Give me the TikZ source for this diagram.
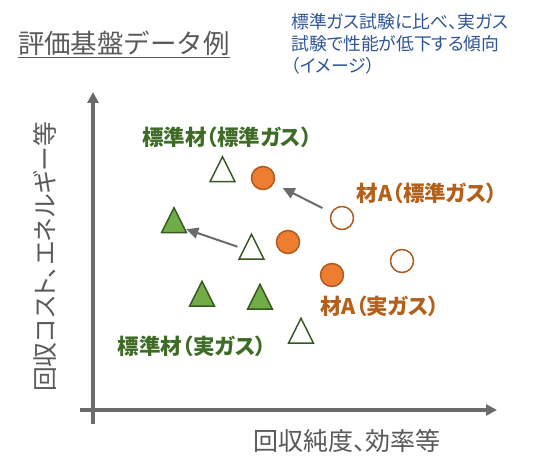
\documentclass[tikz,border=0pt]{standalone}
\usepackage{fontspec}
\newfontfamily\jp{Noto Sans CJK JP}
\newfontfamily\jpp[RawFeature=+palt]{Noto Sans CJK JP}
\usetikzlibrary{arrows.meta,shapes.geometric}
\definecolor{axgray}{HTML}{6B6B6B}
\definecolor{txtgray}{HTML}{595959}
\definecolor{blueT}{HTML}{2F5597}
\definecolor{grnfill}{HTML}{70AD47}
\definecolor{grnline}{HTML}{385723}
\definecolor{grntxt}{HTML}{3E6B25}
\definecolor{orfill}{HTML}{ED7D31}
\definecolor{orline}{HTML}{AE5A21}
\definecolor{ortxt}{HTML}{B45F1A}
\tikzset{
  axis/.style={draw=axgray,line width=4pt,-{Triangle[length=11pt,width=11pt]}},
  tri/.style={shape=isosceles triangle,shape border rotate=90,isosceles triangle stretches,
    minimum width=25pt,minimum height=25pt,inner sep=0pt,outer sep=0pt,line width=1.5pt,draw=grnline},
  opentri/.style={tri,fill=white},
  filltri/.style={tri,fill=grnfill},
  circ/.style={circle,minimum size=23pt,inner sep=0pt,outer sep=0pt,line width=1.5pt,draw=orline},
  opencirc/.style={circ,fill=white},
  fillcirc/.style={circ,fill=orfill},
  mv/.style={draw=axgray,line width=2pt,-{Triangle[length=12pt,width=11pt]}},
  lbl/.style={font=\jpp\bfseries\fontsize{21.5}{24}\selectfont,inner sep=0pt},
}
\begin{document}
\begin{tikzpicture}[x=1pt,y=-1pt]
\useasboundingbox (0,0) rectangle (560,470);
% axes
\coordinate (yb) at (93,424);
\coordinate (yt) at (93,92);
\coordinate (xl) at (80,410);
\coordinate (xr) at (497,410);
\draw[axis] (yb) -- (yt);
\draw[axis] (xl) -- (xr);
% title
\node[font=\jp\fontsize{26.5}{30}\selectfont,text=txtgray,inner sep=0pt] (title) at (124,44) {\underline{評価基盤データ例}};
\node[font=\jpp\fontsize{17.8}{22}\selectfont,text=blueT,align=left,anchor=north west,inner sep=0pt] (note) at (291,13)
  {標準ガス試験に比べ、実ガス\\試験で性能が低下する傾向\\（イメージ）};
% axis labels
\node[font=\jpp\fontsize{24.8}{28}\selectfont,text=txtgray,rotate=90,inner sep=0pt] (ylab) at (45,257) {回収コスト、エネルギー等};
\node[font=\jpp\fontsize{25}{28}\selectfont,text=txtgray,inner sep=0pt] (xlab) at (347,441) {回収純度、効率等};
% markers
\node[opentri] (ot1) at (222.5,174) {};
\node[filltri] (gt1) at (174,225) {};
\node[opentri] (ot2) at (251.5,251.5) {};
\node[filltri] (gt2) at (202,298.5) {};
\node[filltri] (gt3) at (260,301.5) {};
\node[opentri] (ot3) at (301,335.5) {};
\node[fillcirc] (fc1) at (263,178) {};
\node[fillcirc] (fc2) at (288,242) {};
\node[fillcirc] (fc3) at (332,275) {};
\node[opencirc] (oc1) at (342,218) {};
\node[opencirc] (oc2) at (402,261) {};
% shift arrows
\draw[mv,shorten <=22pt,shorten >=22pt] (oc1.center) -- (fc1.center);
\draw[mv,shorten <=15pt,shorten >=13pt] (ot2.center) -- (gt1.center);
% labels
\node[lbl,text=grntxt] (l1) at (227,137) {標準材（標準ガス）};
\node[lbl,text=ortxt] (l2) at (427,193) {材A（標準ガス）};
\node[lbl,text=ortxt] (l3) at (380,306) {材A（実ガス）};
\node[lbl,text=grntxt] (l4) at (192,346) {標準材（実ガス）};
\end{tikzpicture}
\end{document}
